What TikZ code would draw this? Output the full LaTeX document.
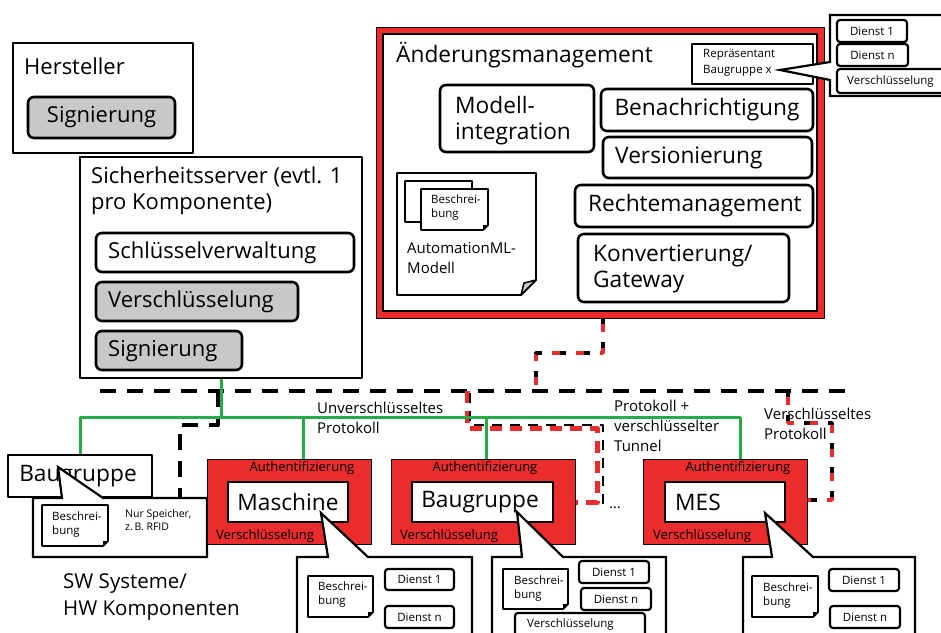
\documentclass[tikz,border=0pt]{standalone}
\usepackage{fontspec}
\setmainfont{Open Sans}
\usetikzlibrary{calc}
\definecolor{fred}{RGB}{234,44,44}
\definecolor{fgreen}{RGB}{40,170,70}
\definecolor{fgray}{RGB}{200,200,200}
\newcommand\fsXL{\fontsize{22.7}{26}\selectfont}
\newcommand\fsL{\fontsize{22}{25.5}\selectfont}
\newcommand\fsSW{\fontsize{20.5}{27}\selectfont}
\newcommand\fsM{\fontsize{15}{20}\selectfont}
\newcommand\fsA{\fontsize{13}{15}\selectfont}
\newcommand\fsS{\fontsize{11.5}{16}\selectfont}
\newcommand\fsT{\fontsize{11.5}{14}\selectfont}
\newcommand\fsN{\fontsize{10.5}{13}\selectfont}
% box by corners: style, x1, y1, x2, y2, name
\newcommand\boxat[6]{\node[#1, minimum width={#4-#2}, minimum height={#5-#3}] (#6) at ({(#2+#4)/2},{(#3+#5)/2}) {};}
% document with folded corner: x1,y1,x2,y2,fold
\newcommand\docat[5]{%
  \draw[docline] (#1,#2) -- (#3,#2) -- (#3,{#4-#5}) -- ({#3-#5},#4) -- (#1,#4) -- cycle;
  \fill[black] (#3,{#4-#5}) -- ({#3-#5},#4) -- ({#3-#5},{#4-#5}) -- cycle;}
\begin{document}
\begin{tikzpicture}[x=1pt,y=-1pt,line join=round,
  plain/.style={draw=black, line width=1.8pt, fill=white, inner sep=0pt},
  rbox/.style={draw=black, line width=2.6pt, fill=white, rounded corners=6pt, inner sep=0pt},
  gbox/.style={rbox, fill=fgray},
  sbox/.style={draw=black, line width=2.2pt, fill=white, rounded corners=3pt, inner sep=0pt},
  redbox/.style={draw=black, line width=0.8pt, fill=fred, inner sep=0pt},
  innerbox/.style={draw=black, line width=2.6pt, fill=white, inner sep=0pt},
  callout/.style={draw=black, line width=2.2pt, fill=white, line join=miter},
  docline/.style={draw=black, line width=1.8pt, fill=white},
  lbl/.style={inner sep=0pt, anchor=west},
  ctr/.style={inner sep=0pt},
  lbox/.style={inner sep=0pt, anchor=north west, align=left},
  bdash/.style={draw=black, line width=4pt, dash pattern=on 16pt off 11pt},
  mixr/.style={draw=fred, line width=3.5pt, dash pattern=on 14pt off 10pt},
  mixk/.style={draw=black, line width=3.5pt, dash pattern=on 6pt off 18pt},
  tunr/.style={draw=fred, line width=5pt, dash pattern=on 12pt off 8pt},
  tunk/.style={draw=black, line width=2.5pt, dash pattern=on 10pt off 8pt},
  gline/.style={draw=fgreen, line width=3pt}]
\useasboundingbox (0,0) rectangle (941,632);

% ---------------- Hersteller
\boxat{plain}{13}{43}{193}{153}{herst}
\node[lbl,font=\fsL] (hersttxt) at (24,66) {Hersteller};
\boxat{gbox}{28}{97}{175}{138}{sigA}
\node[ctr,font=\fsL] (sigAt) at (sigA) {Signierung};

% ---------------- Sicherheitsserver
\boxat{plain}{80}{157}{362}{378}{sich}
\node[lbox,font=\fsL] (sicht) at (91,167) {Sicherheitsserver (evtl. 1\\pro Komponente)};
\boxat{rbox}{96}{233}{354}{272}{schl}
\node[lbl,font=\fsL] (schlt) at (108,253) {Schlüsselverwaltung};
\boxat{gbox}{96}{282}{298}{321}{versA}
\node[lbl,font=\fsL] (versAt) at (108,302) {Verschlüsselung};
\boxat{gbox}{96}{331}{242}{370}{sigB}
\node[lbl,font=\fsL] (sigBt) at (108,351) {Signierung};

% ---------------- Aenderungsmanagement
\boxat{redbox}{376}{27}{824}{318}{aendR}
\boxat{innerbox}{383}{34}{817}{311}{aend}
\node[lbl,font=\fsXL] (aendt) at (396,55) {Änderungsmanagement};
\boxat{plain}{692}{44}{813}{84}{repr}
\node[lbox,font=\fsS] (reprt) at (703,49) {Repräsentant\\Baugruppe x};
\draw[callout] (830,15) -- (950,15) -- (950,96) -- (830,96) -- (830,80) -- (780,70) -- (830,62) -- cycle;
\boxat{sbox}{837}{20}{907}{42}{dtA1}
\node[ctr,font=\fsS] (dtA1t) at (dtA1) {Dienst 1};
\boxat{sbox}{837}{44}{908}{66}{dtAn}
\node[ctr,font=\fsS] (dtAnt) at (dtAn) {Dienst n};
\boxat{sbox}{837}{69}{955}{93}{vsA}
\node[lbl,font=\fsS] (vsAt) at (847,82) {Verschlüsselung};

\boxat{rbox}{440}{85}{594}{152}{modi}
\node[lbox,font=\fsXL] (modit) at (455,96) {Modell-\\integration};
\boxat{rbox}{601}{89}{813}{131}{bena}
\node[ctr,font=\fsXL] (benat) at (bena) {Benachrichtigung};
\boxat{rbox}{603}{137}{812}{178}{vers}
\node[lbl,font=\fsXL] (verst) at (615,158) {Versionierung};
\boxat{rbox}{575}{185}{813}{227}{recht}
\node[lbl,font=\fsXL] (rechtt) at (588,206) {Rechtemanagement};
\boxat{rbox}{578}{234}{789}{302}{konv}
\node[lbox,font=\fsXL] (konvt) at (593,245) {Konvertierung/\\Gateway};

% AutomationML document
\draw[docline] (397,173) -- (536,173) -- (536,280) -- (521,295) -- (397,295) -- cycle;
\draw[draw=black,line width=1.5pt,fill=fgray] (536,280) -- (521,295) -- (524,283) -- cycle;
\docat{405}{181}{472}{222}{5}
\docat{421}{189}{488}{230}{5}
\node[lbox,font=\fsT] (amlb) at (431,195) {Beschrei-\\bung};
\node[lbox,font=\fsM] (amlt) at (407,242) {AutomationML-\\Modell};

% ---------------- network lines
\draw[bdash] (100,391) -- (852,391);
\draw[mixr] (aendR.south -| 603,0) -- (603,353) -- (536,353) -- (536,391);
\draw[mixk] (aendR.south -| 603,0) -- (603,353) -- (536,353) -- (536,391);
\draw[tunr] (467,391) -- (467,428) -- (597,428) -- (597,502) -- (575,502);
\draw[tunk] (470,393) -- (470,425) -- (603,425) -- (603,505);
\draw[mixr] (788,391) -- (788,423) -- (832,423) -- (832,500) -- (807,500);
\draw[mixk] (788,391) -- (788,423) -- (832,423) -- (832,500) -- (807,500);
\draw[bdash] (218,391) -- (218,425) -- (180,425) -- (180,498);

\draw[gline] (sich.south) -- (221,417);
\draw[gline] (80,455) -- (80,417) -- (740,417) -- (740,459);
\draw[gline] (303,417) -- (303,459);
\draw[gline] (486,417) -- (486,459);

\node[lbox,font=\fsM] (unv) at (317,401.5) {Unverschlüsseltes\\Protokoll};
\node[lbox,font=\fsM] (tun) at (614,399.5) {Protokoll +\\verschlüsselter\\Tunnel};
\node[lbox,font=\fsM] (ver) at (764,407.5) {Verschlüsseltes\\Protokoll};

% ---------------- left Baugruppe
\boxat{plain}{8}{455}{152}{497}{bgL}
\node[ctr,font=\fsXL] (bgLt) at (78,476) {Baugruppe};
\draw[callout] (33,498) -- (62,498) -- (58,467) -- (103,498) -- (207,498) -- (207,557) -- (33,557) -- cycle;
\docat{42}{505}{108}{546}{5}
\node[lbox,font=\fsT] (bgLb) at (52,512) {Beschrei-\\bung};
\node[lbox,font=\fsN] (bgLn) at (125,509) {Nur Speicher,\\z.\,B. RFID};
\node[lbox,font=\fsSW] (swhw) at (63,573) {SW Systeme/\\HW Komponenten};

% ---------------- red components
\boxat{redbox}{207}{459}{371}{544}{maR}
\boxat{innerbox}{228}{482}{348}{522}{ma}
\node[ctr,font=\fsXL] (mat) at (ma) {Maschine};
\node[ctr,font=\fsA] (maau) at (302,468) {Authentifizierung};
\node[lbl,font=\fsA] (mavs) at (216,536) {Verschlüsselung};

\boxat{redbox}{391}{459}{575}{544}{bgR}
\boxat{innerbox}{412}{482}{553}{522}{bg}
\node[ctr,font=\fsXL] (bgt) at (480,502) {Baugruppe};
\node[ctr,font=\fsA] (bgau) at (485,468) {Authentifizierung};
\node[lbl,font=\fsA] (bgvs) at (400,536) {Verschlüsselung};

\boxat{redbox}{643}{459}{807}{544}{mesR}
\boxat{innerbox}{665}{482}{785}{522}{mes}
\node[lbl,font=\fsXL] (mest) at (675,502) {MES};
\node[ctr,font=\fsA] (mesau) at (738,468) {Authentifizierung};
\node[lbl,font=\fsA] (mesvs) at (653,536) {Verschlüsselung};

\node[ctr,font=\fsM] (dots) at (615,508) {\dots};

% callouts
\draw[callout] (297,640) -- (297,557) -- (328,557) -- (321,513) -- (368,557) -- (472,557) -- (472,640);
\docat{308}{576}{373}{617}{5}
\node[lbox,font=\fsT] (mab) at (318,582) {Beschrei-\\bung};
\boxat{sbox}{385}{569}{454}{590}{ma1}
\node[ctr,font=\fsS] (ma1t) at (ma1) {Dienst 1};
\boxat{sbox}{385}{606}{454}{628}{man}
\node[ctr,font=\fsS] (mant) at (man) {Dienst n};

\draw[callout] (492,640) -- (492,557) -- (522,557) -- (517,512) -- (563,557) -- (666,557) -- (666,640);
\docat{503}{569}{568}{609}{5}
\node[lbox,font=\fsT] (bgb) at (514,576) {Beschrei-\\bung};
\boxat{sbox}{579}{561}{649}{583}{bg1}
\node[ctr,font=\fsS] (bg1t) at (bg1) {Dienst 1};
\boxat{sbox}{581}{588}{651}{610}{bgn}
\node[ctr,font=\fsS] (bgnt) at (bgn) {Dienst n};
\boxat{sbox}{515}{613}{645}{645}{bgv}
\node[lbl,font=\fsS] (bgvt) at (527,625) {Verschlüsselung};

\draw[callout] (743,640) -- (743,557) -- (772,557) -- (765,513) -- (813,557) -- (915,557) -- (915,640);
\docat{752}{576}{818}{617}{5}
\node[lbox,font=\fsT] (mesb) at (763,583) {Beschrei-\\bung};
\boxat{sbox}{829}{569}{899}{591}{mes1}
\node[ctr,font=\fsS] (mes1t) at (mes1) {Dienst 1};
\boxat{sbox}{830}{606}{900}{628}{mesn}
\node[ctr,font=\fsS] (mesnt) at (mesn) {Dienst n};
\end{tikzpicture}
\end{document}
